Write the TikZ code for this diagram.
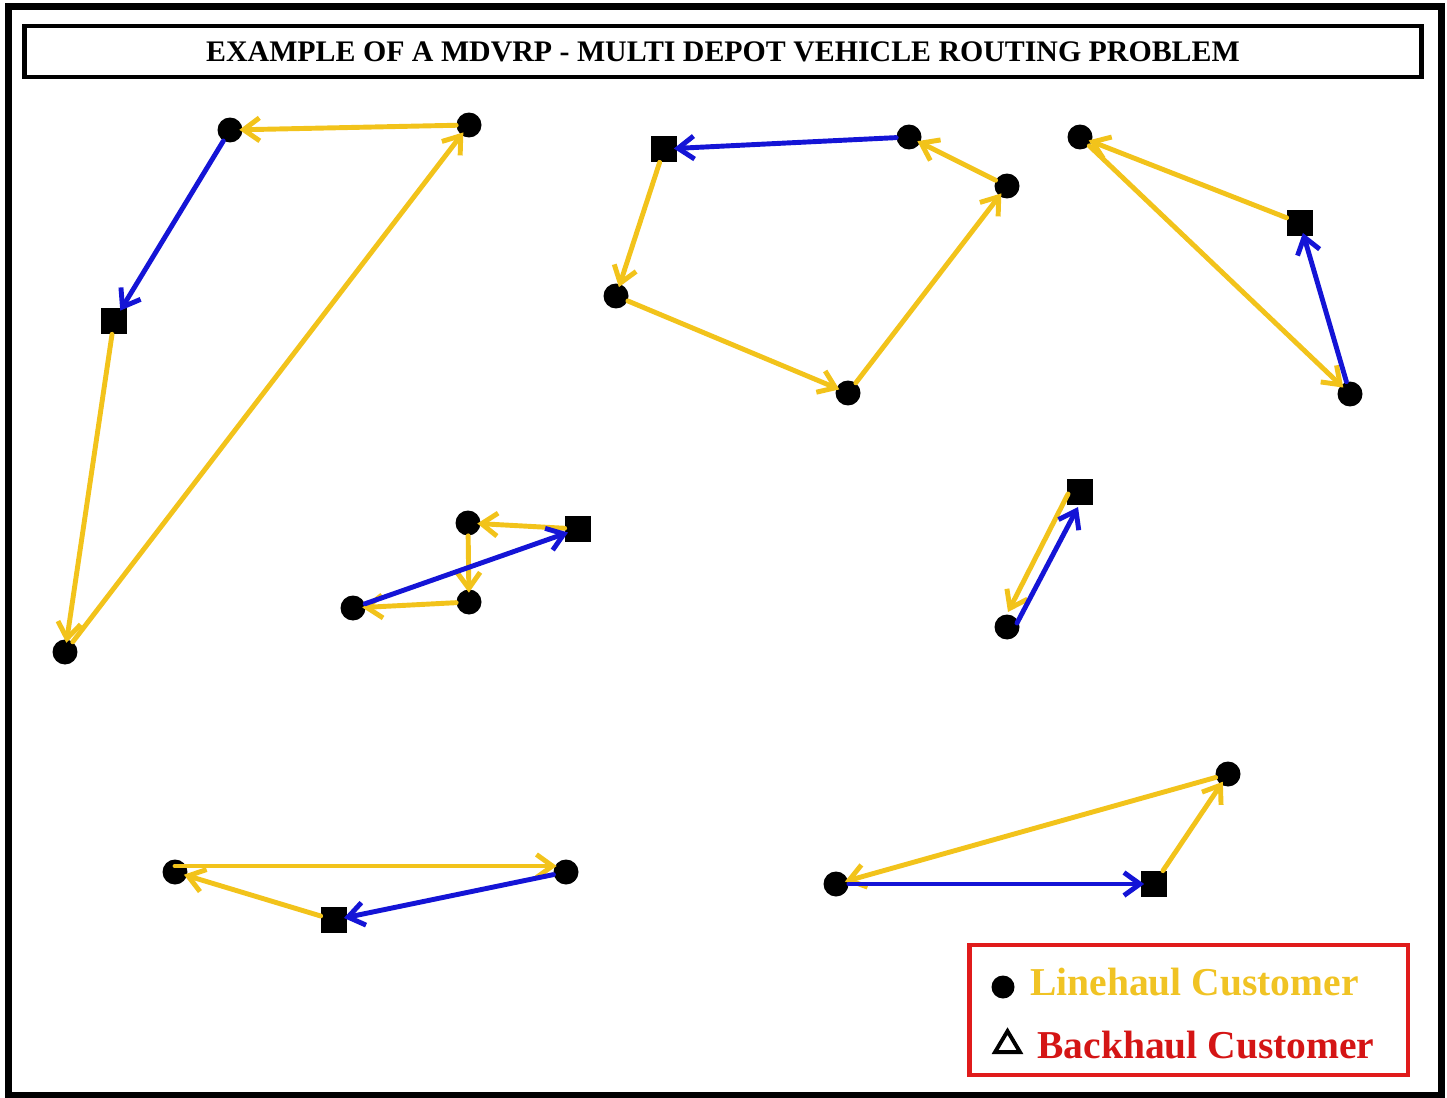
\documentclass[tikz,border=0pt]{standalone}
\usepackage{fontspec}
\setmainfont{Liberation Serif}
\usetikzlibrary{arrows.meta, shapes.geometric}
\usepackage{xcolor}
\definecolor{routeyellow}{HTML}{F2C31B}
\definecolor{routeblue}{HTML}{1414D6}
\definecolor{legendred}{HTML}{E01B1B}
\definecolor{textred}{HTML}{D41515}
\definecolor{textyellow}{HTML}{F0C324}

\begin{document}
\begin{tikzpicture}[x=0.02cm, y=-0.02cm,
      every node/.style={font=\bfseries},
      lhnode/.style={circle, fill=black, inner sep=0pt, minimum size=0.5cm},
      bhnode/.style={rectangle, fill=black, inner sep=0pt, minimum size=0.52cm},
      route/.style={-{Straight Barb[length=0.32cm, width=0.46cm]}, line width=2.8pt, line cap=round, line join=round, shorten >=-2pt},
      linehaul/.style={route, draw=routeyellow},
      backhaul/.style={route, draw=routeblue},
    ]
    \useasboundingbox (0,0) rectangle (1447,1098);
    % Frame and title
    \draw[line width=4pt] (8.5,6.5) rectangle (1441,1095.5);
    \node[draw, line width=2.8pt, minimum width=27.96cm, minimum height=1.02cm, font=\bfseries\fontsize{17}{20}\selectfont] (title) at (723,51.5) {EXAMPLE OF A MDVRP - MULTI DEPOT VEHICLE ROUTING PROBLEM};

    % Route A
    \node[lhnode] (a1) at (230,130) {};
    \node[lhnode] (a2) at (469,125) {};
    \node[bhnode] (a3) at (114,321) {};
    \node[lhnode] (a4) at (65,652) {};
    % Route B
    \node[bhnode] (b1) at (664,149) {};
    \node[lhnode] (b2) at (909,137) {};
    \node[lhnode] (b3) at (1007,186) {};
    \node[lhnode] (b4) at (616,296) {};
    \node[lhnode] (b5) at (848,393) {};
    % Route C
    \node[lhnode] (c1) at (1080,137) {};
    \node[bhnode] (c2) at (1300,223) {};
    \node[lhnode] (c3) at (1350,394) {};
    % Route D
    \node[lhnode] (d1) at (468,523) {};
    \node[bhnode] (d2) at (578,529) {};
    \node[lhnode] (d3) at (469,602) {};
    \node[lhnode] (d4) at (353,608) {};
    % Route E
    \node[bhnode] (e1) at (1080,492) {};
    \node[lhnode] (e2) at (1007,627) {};
    % Route F
    \node[lhnode] (f1) at (175,872) {};
    \node[lhnode] (f2) at (566,872) {};
    \node[bhnode] (f3) at (334,920) {};
    % Route G
    \node[lhnode] (g1) at (1228,774) {};
    \node[lhnode] (g2) at (836,884) {};
    \node[bhnode] (g3) at (1154,884) {};

    % Arrows
    \draw[linehaul] (a2) -- (a1);
    \draw[backhaul] (a1) -- (a3);
    \draw[linehaul] (a3) -- (a4);
    \draw[linehaul] (a4) -- (a2);

    \draw[backhaul] (b2) -- (b1);
    \draw[linehaul] (b1) -- (b4);
    \draw[linehaul] (b4) -- (b5);
    \draw[linehaul] (b5) -- (b3);
    \draw[linehaul] (b3) -- (b2);

    \draw[linehaul] (c2) -- (c1);
    \draw[linehaul] (c1) -- (c3);
    \draw[backhaul] (c3) -- (c2);

    \draw[linehaul] (d2) -- (d1);
    \draw[linehaul] (d1) -- (d3);
    \draw[linehaul] (d3) -- (d4);
    \draw[backhaul] (d4) -- (d2);

    \draw[linehaul, shorten >=0pt] ([shift={(-12,2)}]e1.center) -- ([shift={(1,-15)}]e2.center);
    \draw[backhaul, shorten >=0pt] ([shift={(10,-4)}]e2.center) -- ([shift={(-2,15)}]e1.center);

    \draw[linehaul] ([yshift=0.12cm]f1.center) -- ([yshift=0.12cm]f2.west);
    \draw[backhaul] (f2) -- (f3);
    \draw[linehaul] (f3) -- (f1);

    \draw[linehaul] (g1) -- (g2);
    \draw[backhaul] (g2) -- (g3);
    \draw[linehaul] (g3) -- (g1);

    % Legend
    \node[draw=legendred, line width=2.8pt, minimum width=8.78cm, minimum height=2.6cm] (legend) at (1188.5,1010) {};
    \node[lhnode, minimum size=0.46cm] (lhkey) at (1003,987) {};
    \node[anchor=base west, inner sep=0pt, text=textyellow, font=\bfseries\fontsize{22.5}{26}\selectfont] (lhtext) at (1030,995) {Linehaul Customer};
    \node[isosceles triangle, shape border rotate=90, draw, line width=2.2pt, inner sep=0pt, isosceles triangle stretches, minimum width=0.5cm, minimum height=0.42cm] (bhkey) at (1007.5,1045) {};
    \node[anchor=base west, inner sep=0pt, text=textred, font=\bfseries\fontsize{22.5}{26}\selectfont] (bhtext) at (1037,1058) {Backhaul Customer};
  \end{tikzpicture}
\end{document}
